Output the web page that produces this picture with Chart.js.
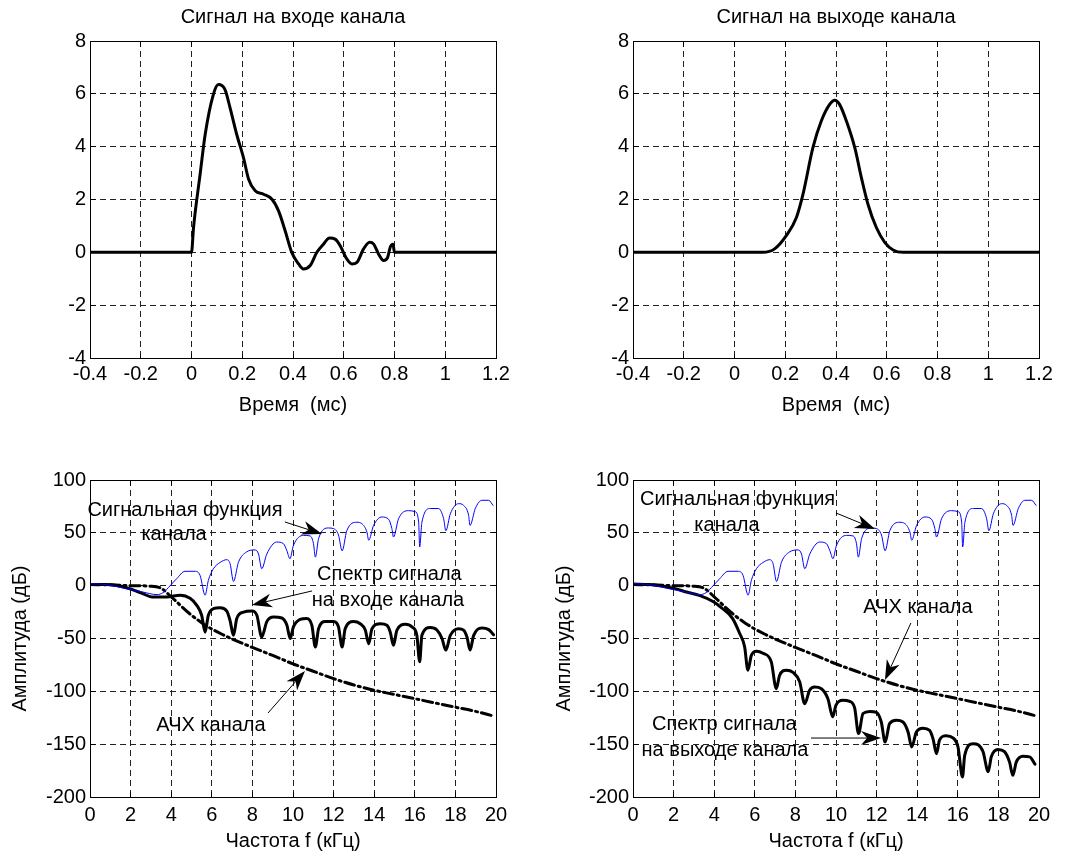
<!DOCTYPE html>
<html>
<head>
<meta charset="utf-8">
<script src="https://cdn.jsdelivr.net/npm/chart.js@4.4.1/dist/chart.umd.min.js"></script>
<style>
  body { margin: 0; background: #fff; }
  #page { position: relative; width: 1066px; height: 856px; overflow: hidden; }
  canvas { position: absolute; }
</style>
</head>
<body>
<div id="page">
  <canvas id="c-in" width="533" height="428" style="left:0;top:0"></canvas>
  <canvas id="c-out" width="533" height="428" style="left:533px;top:0"></canvas>
  <canvas id="c-spec-in" width="533" height="428" style="left:0;top:428px"></canvas>
  <canvas id="c-spec-out" width="533" height="428" style="left:533px;top:428px"></canvas>
</div>
<script>
// time signals (ms, amplitude)
var inputTime = [-0.4, 0, 0.008, 0.034, 0.054, 0.086, 0.106, 0.132, 0.152, 0.178, 0.205, 0.225, 0.251, 0.284, 0.317, 0.343, 0.369, 0.395, 0.422, 0.441, 0.468, 0.494, 0.52, 0.544, 0.566, 0.586, 0.612, 0.632, 0.652, 0.678, 0.702, 0.718, 0.737, 0.757, 0.773, 0.783, 0.794, 0.8, 1.2];
var inputAmp = [0, 0, 0.94, 2.96, 4.47, 5.97, 6.35, 6.16, 5.47, 4.47, 3.58, 2.77, 2.33, 2.2, 2.01, 1.57, 0.82, 0, -0.44, -0.63, -0.5, 0, 0.31, 0.54, 0.5, 0.25, -0.25, -0.44, -0.38, 0.13, 0.38, 0.31, -0.06, -0.31, -0.19, 0.19, 0.31, 0, 0];
var outputTime = [-0.4, 0.112, 0.158, 0.204, 0.244, 0.27, 0.309, 0.342, 0.375, 0.395, 0.414, 0.441, 0.474, 0.5, 0.526, 0.559, 0.592, 0.625, 0.664, 1.2];
var outputAmp = [0, 0, 0.13, 0.63, 1.32, 2.2, 3.96, 4.97, 5.6, 5.76, 5.6, 4.97, 3.96, 2.83, 1.82, 0.94, 0.38, 0.09, 0, 0];

// spectra (kHz, dB)
var sfFreq = [0, 0.8, 1.8, 2.6, 3.3, 3.6, 3.95, 4.27, 4.68, 5.18, 5.42, 5.67, 5.83, 6.08, 6.41, 6.74, 6.9, 7.07, 7.31, 7.72, 8.13, 8.3, 8.46, 8.71, 9.2, 9.53, 9.7, 9.85, 10.02, 10.52, 10.85, 11.01, 11.1, 11.26, 11.75, 12.0, 12.24, 12.42, 12.65, 13.15, 13.39, 13.64, 13.73, 13.97, 14.38, 14.71, 14.87, 14.95, 15.2, 15.69, 16.02, 16.19, 16.24, 16.35, 16.76, 17.17, 17.42, 17.53, 17.75, 18.16, 18.4, 18.65, 18.72, 18.98, 19.31, 19.64, 19.85];
var sfDb = [2, 1, -3, -6, -8.5, -6.6, 0, 6.6, 13.6, 13.6, 9.8, -9, 5, 16, 22, 24.6, 20.8, 4, 22, 32, 33.8, 30, 16, 30, 41.3, 39.7, 33, 25.5, 38, 47.6, 47, 39.7, 27, 44.5, 54.6, 54, 48, 33, 52, 60, 58.7, 50.8, 43, 57, 65, 62.8, 54, 46, 63.4, 71, 70, 60, 36.6, 60, 73, 73, 63.4, 52, 68, 77.6, 76, 66.6, 57, 73, 80.8, 80.8, 76];

var inSpecFreq = [0, 0.8, 1.8, 2.6, 3.04, 3.78, 4.44, 4.93, 5.26, 5.5, 5.67, 5.83, 6.08, 6.41, 6.74, 6.9, 7.07, 7.23, 7.56, 7.97, 8.22, 8.46, 8.71, 9.04, 9.45, 9.7, 9.86, 10.02, 10.35, 10.68, 10.93, 11.1, 11.26, 11.59, 12.0, 12.24, 12.42, 12.57, 12.98, 13.31, 13.56, 13.73, 13.89, 14.3, 14.63, 14.79, 14.95, 15.12, 15.53, 15.86, 16.1, 16.24, 16.35, 16.76, 17.09, 17.34, 17.53, 17.75, 18.16, 18.4, 18.57, 18.72, 18.9, 19.31, 19.64, 19.88];
var inSpecDb = [1, 1, -2, -7.5, -10.7, -10.7, -9, -12, -18.6, -28, -44, -28, -21.8, -21, -24, -33, -47, -31, -25, -24, -28, -48.6, -34, -29.7, -30.6, -37.5, -50, -39, -32, -31, -37.5, -58, -40.7, -34, -34, -39, -58, -40.7, -34, -36, -42, -55, -40.7, -36, -37.5, -44, -56.5, -42, -36.6, -39, -47, -72, -47, -39.7, -42, -50, -61, -47, -40.7, -42, -48.6, -61, -47, -40, -41.6, -46.4];

var outSpecFreq = [0, 0.82, 1.99, 2.63, 3.3, 3.94, 4.3, 4.9, 5.25, 5.5, 5.66, 5.83, 6.08, 6.4, 6.81, 7.06, 7.22, 7.55, 7.88, 8.21, 8.46, 8.7, 8.95, 9.28, 9.6, 9.84, 10.0, 10.34, 10.67, 10.92, 11.11, 11.33, 11.66, 11.99, 12.23, 12.42, 12.64, 12.97, 13.3, 13.55, 13.73, 13.96, 14.29, 14.61, 14.78, 14.95, 15.1, 15.43, 15.76, 16.01, 16.23, 16.34, 16.75, 17.0, 17.24, 17.5, 17.65, 17.98, 18.3, 18.55, 18.71, 18.88, 19.21, 19.54, 19.8];
var outSpecDb = [1.5, 1, -2.4, -6, -9.5, -15, -20, -31, -45, -58, -80, -66, -62, -64, -72, -97.5, -85, -80, -82, -91, -111.7, -99, -96, -97.5, -107, -124, -113, -108.5, -109.5, -116, -140, -121, -119, -120, -129, -148, -130.5, -127.4, -129, -138.5, -152.7, -138.5, -135, -137, -145, -159, -146, -142, -144, -152.7, -181, -160.6, -149.5, -150.5, -157, -176, -162, -155, -157, -167, -179.5, -167, -161.5, -162, -169];

var achFreq = [0, 1, 2, 3, 3.5, 4, 4.5, 5, 5.5, 6, 6.5, 7, 7.5, 8, 9, 10, 11, 12, 13, 14, 15, 16, 17, 18, 19, 19.9];
var achDb = [1, 0.8, 0, -0.5, -2.5, -10.5, -19.5, -28, -35, -41, -46, -50.5, -54.5, -58.5, -66, -74, -81, -88, -94, -99, -103, -107, -111, -115, -119, -123.5];

// axes
var timeTicks = [-0.4, -0.2, 0, 0.2, 0.4, 0.6, 0.8, 1, 1.2];
var timeTickLabels = ['-0.4', '-0.2', '0', '0.2', '0.4', '0.6', '0.8', '1', '1.2'];
var ampTicks = [-4, -2, 0, 2, 4, 6, 8];
var ampTickLabels = ['-4', '-2', '0', '2', '4', '6', '8'];
var freqTicks = [0, 2, 4, 6, 8, 10, 12, 14, 16, 18, 20];
var freqTickLabels = ['0', '2', '4', '6', '8', '10', '12', '14', '16', '18', '20'];
var dbTicks = [-200, -150, -100, -50, 0, 50, 100];
var dbTickLabels = ['-200', '-150', '-100', '-50', '0', '50', '100'];

var FONT = '"Liberation Sans", Arial, sans-serif';
var FONT_SIZE = 20;
var GRID = '#222';

function pairs(xs, ys) {
  return xs.map(function (x, i) { return { x: x, y: ys[i] }; });
}

function drawArrow(ctx, x1, y1, x2, y2) {
  var ang = Math.atan2(y2 - y1, x2 - x1);
  var c = Math.cos(ang), s = Math.sin(ang);
  var len = 20, half = 7, notch = 6;
  var bx = x2 - len * c, by = y2 - len * s;
  ctx.lineWidth = 1;
  ctx.beginPath();
  ctx.moveTo(x1, y1);
  ctx.lineTo(x2 - (len - notch) * c, y2 - (len - notch) * s);
  ctx.stroke();
  ctx.beginPath();
  ctx.moveTo(x2, y2);
  ctx.lineTo(bx - s * half, by + c * half);
  ctx.lineTo(x2 - (len - notch) * c, y2 - (len - notch) * s);
  ctx.lineTo(bx + s * half, by - c * half);
  ctx.closePath();
  ctx.fill();
}

function snap(p) { return Math.round(p - 0.5) + 0.5; }

// frame, inward ticks, title and the text/arrow notes
var plotDecor = {
  id: 'plotDecor',
  afterDatasetsDraw: function (chart, args, opts) {
    var ctx = chart.ctx, a = chart.chartArea;
    var xs = chart.scales.x, ys = chart.scales.y;
    var l = snap(a.left), r = snap(a.right), t = snap(a.top), b = snap(a.bottom);
    ctx.save();
    ctx.setLineDash([]);
    ctx.strokeStyle = '#000';
    ctx.fillStyle = '#000';
    ctx.lineWidth = 1;
    ctx.strokeRect(l, t, r - l, b - t);
    ctx.beginPath();
    xs.ticks.forEach(function (tk) {
      var px = snap(xs.getPixelForValue(tk.value));
      ctx.moveTo(px, b); ctx.lineTo(px, b - 5);
      ctx.moveTo(px, t); ctx.lineTo(px, t + 5);
    });
    ys.ticks.forEach(function (tk) {
      var py = snap(ys.getPixelForValue(tk.value));
      ctx.moveTo(l, py); ctx.lineTo(l + 5, py);
      ctx.moveTo(r, py); ctx.lineTo(r - 5, py);
    });
    ctx.stroke();

    ctx.font = FONT_SIZE + 'px ' + FONT;
    ctx.textAlign = 'center';
    ctx.textBaseline = 'middle';
    if (opts.title) {
      ctx.fillText(opts.title, (a.left + a.right) / 2, opts.titleY);
    }
    (opts.notes || []).forEach(function (n) {
      ctx.fillText(n.text, xs.getPixelForValue(n.x), ys.getPixelForValue(n.y));
    });
    (opts.arrows || []).forEach(function (ar) {
      drawArrow(ctx,
        xs.getPixelForValue(ar.from[0]), ys.getPixelForValue(ar.from[1]),
        xs.getPixelForValue(ar.to[0]), ys.getPixelForValue(ar.to[1]));
    });
    ctx.restore();
  }
};

function axis(cfg) {
  var font = { family: FONT, size: FONT_SIZE };
  var horizontal = cfg.dir === 'x';
  return {
    type: 'linear',
    min: cfg.min,
    max: cfg.max,
    afterBuildTicks: function (s) {
      s.ticks = cfg.ticks.map(function (v) { return { value: v }; });
    },
    afterFit: function (s) {
      if (horizontal) s.height = cfg.size; else s.width = cfg.size;
    },
    grid: { color: GRID, lineWidth: 1, drawTicks: false },
    border: { display: false, dash: [6, 4] },
    ticks: {
      color: '#000',
      font: font,
      padding: cfg.pad,
      maxRotation: 0,
      autoSkip: false,
      callback: function (v, i) { return cfg.labels[i]; }
    },
    title: {
      display: !!cfg.title,
      text: cfg.title || '',
      color: '#000',
      font: font,
      padding: horizontal ? { top: 0, bottom: cfg.titlePad } : { top: cfg.titlePad, bottom: 0 }
    }
  };
}

function buildChart(id, datasets, setup) {
  return new Chart(document.getElementById(id), {
    type: 'line',
    data: { datasets: datasets },
    options: {
      responsive: false,
      animation: false,
      devicePixelRatio: 1,
      layout: { padding: setup.padding },
      elements: {
        point: { radius: 0 },
        line: { cubicInterpolationMode: 'monotone', borderCapStyle: 'round', borderJoinStyle: 'round' }
      },
      plugins: {
        legend: { display: false },
        tooltip: { enabled: false },
        title: { display: false },
        plotDecor: setup.decor
      },
      scales: { x: setup.x, y: setup.y }
    },
    plugins: [plotDecor]
  });
}

function blackLine(xs, ys) {
  return { data: pairs(xs, ys), borderColor: '#000', borderWidth: 3, fill: false };
}

function blueLine(xs, ys) {
  return { data: pairs(xs, ys), borderColor: '#0000ff', borderWidth: 1, fill: false };
}

function dashDotLine(xs, ys) {
  return { data: pairs(xs, ys), borderColor: '#000', borderWidth: 3, borderDash: [10, 4, 2, 4], fill: false };
}

// top row: time signals
buildChart('c-in', [blackLine(inputTime, inputAmp)], {
  padding: { left: 0, right: 37, top: 41, bottom: 0 },
  decor: { title: 'Сигнал на входе канала', titleY: 17 },
  x: axis({ dir: 'x', min: -0.4, max: 1.2, ticks: timeTicks, labels: timeTickLabels, size: 70, pad: 4.4, title: 'Время  (мс)', titlePad: 11 }),
  y: axis({ dir: 'y', min: -4, max: 8, ticks: ampTicks, labels: ampTickLabels, size: 90, pad: 4 })
});

buildChart('c-out', [blackLine(outputTime, outputAmp)], {
  padding: { left: 0, right: 27, top: 41, bottom: 0 },
  decor: { title: 'Сигнал на выходе канала', titleY: 17 },
  x: axis({ dir: 'x', min: -0.4, max: 1.2, ticks: timeTicks, labels: timeTickLabels, size: 70, pad: 4.4, title: 'Время  (мс)', titlePad: 11 }),
  y: axis({ dir: 'y', min: -4, max: 8, ticks: ampTicks, labels: ampTickLabels, size: 100, pad: 4 })
});

// bottom row: spectra
buildChart('c-spec-in', [blueLine(sfFreq, sfDb), blackLine(inSpecFreq, inSpecDb), dashDotLine(achFreq, achDb)], {
  padding: { left: 0, right: 37, top: 52, bottom: 0 },
  decor: {
    notes: [
      { x: 4.68, y: 71.6, text: 'Сигнальная функция' },
      { x: 4.14, y: 48, text: 'канала' },
      { x: 14.75, y: 10.4, text: 'Спектр сигнала' },
      { x: 14.68, y: -14.2, text: 'на входе канала' },
      { x: 5.96, y: -132.5, text: 'АЧХ канала' }
    ],
    arrows: [
      { from: [9.6, 60.3], to: [11.43, 48.9] },
      { from: [10.94, -5], to: [7.98, -18.3] },
      { from: [8.77, -120.5], to: [10.59, -80.7] }
    ]
  },
  x: axis({ dir: 'x', min: 0, max: 20, ticks: freqTicks, labels: freqTickLabels, size: 59, pad: 6.4, title: 'Частота f (кГц)', titlePad: 3 }),
  y: axis({ dir: 'y', min: -200, max: 100, ticks: dbTicks, labels: dbTickLabels, size: 90, pad: 4, title: 'Амплитуда (дБ)', titlePad: 8 })
});

buildChart('c-spec-out', [blueLine(sfFreq, sfDb), blackLine(outSpecFreq, outSpecDb), dashDotLine(achFreq, achDb)], {
  padding: { left: 0, right: 27, top: 52, bottom: 0 },
  decor: {
    notes: [
      { x: 5.15, y: 81.4, text: 'Сигнальная функция' },
      { x: 4.63, y: 57.4, text: 'канала' },
      { x: 14.04, y: -21.1, text: 'АЧХ канала' },
      { x: 4.5, y: -131.6, text: 'Спектр сигнала' },
      { x: 4.53, y: -156.2, text: 'на выходе канала' }
    ],
    arrows: [
      { from: [10.0, 68.8], to: [11.92, 53.6] },
      { from: [13.69, -35.3], to: [12.41, -89.3] },
      { from: [8.77, -144.2], to: [12.22, -144.2] }
    ]
  },
  x: axis({ dir: 'x', min: 0, max: 20, ticks: freqTicks, labels: freqTickLabels, size: 59, pad: 6.4, title: 'Частота f (кГц)', titlePad: 3 }),
  y: axis({ dir: 'y', min: -200, max: 100, ticks: dbTicks, labels: dbTickLabels, size: 100, pad: 4, title: 'Амплитуда (дБ)', titlePad: 19.7 })
});
</script>
</body>
</html>
